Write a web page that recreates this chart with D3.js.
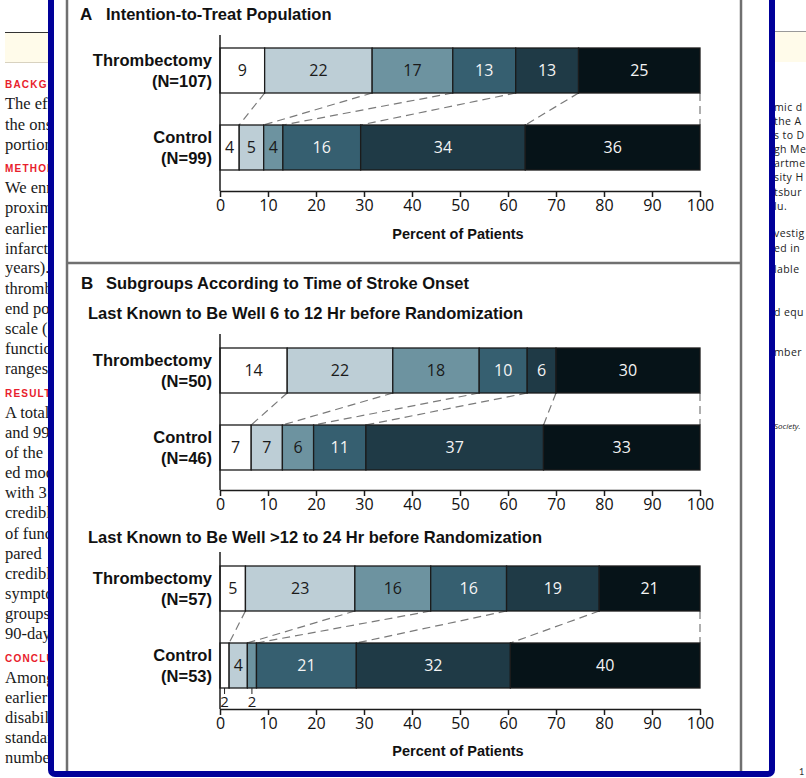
<!DOCTYPE html>
<html>
<head>
<meta charset="utf-8">
<script src="https://cdn.jsdelivr.net/npm/d3@7/dist/d3.min.js"></script>
<style>
html, body { margin: 0; padding: 0; background: #fff; }
svg { display: block; }
</style>
</head>
<body>
<svg id="chart" width="806" height="778"></svg>
<script>
// ---------------- DATA ----------------
const groupNames = ["Thrombectomy", "Control"];
const xTicks = [0, 10, 20, 30, 40, 50, 60, 70, 80, 90, 100];

// Panel A: intention-to-treat population (percent of patients per category)
const ittN = [107, 99];
const ittThrombectomy = [9.3, 22.4, 16.8, 13.1, 13.1, 25.3];
const ittControl = [4.0, 5.1, 4.0, 16.2, 34.3, 36.4];
const ittThrombectomyLabels = ["9", "22", "17", "13", "13", "25"];
const ittControlLabels = ["4", "5", "4", "16", "34", "36"];

// Panel B: last known well 6 to 12 hr
const earlyN = [50, 46];
const earlyThrombectomy = [14, 22, 18, 10, 6, 30];
const earlyControl = [6.5, 6.5, 6.5, 10.9, 37.0, 32.6];
const earlyThrombectomyLabels = ["14", "22", "18", "10", "6", "30"];
const earlyControlLabels = ["7", "7", "6", "11", "37", "33"];

// Panel B: last known well >12 to 24 hr
const lateN = [57, 53];
const lateThrombectomy = [5.3, 22.8, 15.8, 15.8, 19.3, 21.0];
const lateControl = [1.9, 3.8, 1.9, 20.8, 32.1, 39.5];
const lateThrombectomyLabels = ["5", "23", "16", "16", "19", "21"];
const lateControlLabels = ["2", "4", "2", "21", "32", "40"];

// Background article page fragments (visible at the sides of the figure)
const leftLines = [
  ["BACKGRO", 88, "h"], ["The eff", 108.5, "t"], ["the ons", 129.5, "t"], ["portion", 149.5, "t"],
  ["METHOD", 171.5, "h"], ["We enr", 192.5, "t"], ["proxima", 212.5, "t"], ["earlier", 233.5, "t"],
  ["infarct", 253.5, "t"], ["years).", 272.5, "t"], ["thromb", 293.5, "t"], ["end poi", 313.5, "t"],
  ["scale (", 333.5, "t"], ["function", 353.5, "t"], ["ranges", 373.5, "t"], ["RESULTS", 396.5, "h"],
  ["A total", 417.5, "t"], ["and 99", 437.5, "t"], ["of the", 457.5, "t"], ["ed mod", 477.5, "t"],
  ["with 3", 497.5, "t"], ["credible", 517.5, "t"], ["of func", 538.5, "t"], ["pared", 558.5, "t"],
  ["credible", 578.5, "t"], ["symptom", 598.5, "t"], ["groups", 618.5, "t"], ["90-day", 638.5, "t"],
  ["CONCLU", 661.5, "h"], ["Among", 682.5, "t"], ["earlier", 702.5, "t"], ["disabil", 722.5, "t"],
  ["standar", 742.5, "t"], ["number", 762.5, "t"]
];
const rightLines = [
  ["mic d", 110.5, "n"], ["the A", 124.5, "n"], ["s to D", 139, "n"], ["gh Me", 153, "n"],
  ["artme", 167, "n"], ["sity H", 181, "n"], ["tsbur", 195.5, "n"], ["lu.", 209.5, "n"],
  ["vestig", 237, "n"], ["ed in", 252, "n"], ["lable", 273, "n"], ["d equ", 315.5, "n"],
  ["mber", 355.5, "n"], ["Society.", 429, "i"]
];

// ---------------- DRAWING ----------------
const svg = d3.select("#chart");
const SANS = "'Liberation Sans', Arial, sans-serif";
const NUM = "'Open Sans', 'Liberation Sans', sans-serif";
const segColors = ["#ffffff", "#bdced6", "#6d93a0", "#365f70", "#1f3a46", "#061318"];
const segText = ["#1a1a1a", "#1a1a1a", "#1a1a1a", "#f4f4f4", "#f4f4f4", "#f4f4f4"];

// background page
const bg = svg.append("g");
bg.append("rect").attr("x", 5).attr("y", 32).attr("width", 43).attr("height", 31).attr("fill", "#fffbea");
bg.append("line").attr("x1", 5).attr("x2", 48).attr("y1", 32.5).attr("y2", 32.5).attr("stroke", "#333").attr("stroke-width", 1);
bg.append("line").attr("x1", 5).attr("x2", 48).attr("y1", 62.5).attr("y2", 62.5).attr("stroke", "#d8d2c0").attr("stroke-width", 1);
bg.append("rect").attr("x", 775).attr("y", 31).attr("width", 31).attr("height", 31).attr("fill", "#fffbea");
bg.append("line").attr("x1", 775).attr("x2", 806).attr("y1", 31.5).attr("y2", 31.5).attr("stroke", "#999").attr("stroke-width", 1);

const defs = svg.append("defs");
defs.append("clipPath").attr("id", "clipLeft").append("rect").attr("x", 0).attr("y", 0).attr("width", 48).attr("height", 778);
defs.append("clipPath").attr("id", "clipRight").append("rect").attr("x", 775).attr("y", 0).attr("width", 31).attr("height", 778);

const leftG = bg.append("g").attr("clip-path", "url(#clipLeft)");
leftG.selectAll("text").data(leftLines).join("text")
  .attr("x", 5).attr("y", d => d[1])
  .attr("font-family", d => d[2] === "h" ? SANS : "'Liberation Serif', 'Times New Roman', serif")
  .attr("font-weight", d => d[2] === "h" ? "bold" : "normal")
  .attr("font-size", d => d[2] === "h" ? 10 : 16.5)
  .attr("letter-spacing", d => d[2] === "h" ? 1.2 : 0)
  .attr("fill", d => d[2] === "h" ? "#e8202c" : "#1a1a1a")
  .text(d => d[0]);

const rightG = bg.append("g").attr("clip-path", "url(#clipRight)");
rightG.selectAll("text").data(rightLines).join("text")
  .attr("x", 774).attr("y", d => d[1])
  .attr("font-family", "'Open Sans', Lato, sans-serif")
  .attr("font-size", d => d[2] === "i" ? 8 : 10.5)
  .attr("letter-spacing", d => d[2] === "i" ? 0 : 0.4)
  .attr("font-style", d => d[2] === "i" ? "italic" : "normal")
  .attr("fill", "#222")
  .text(d => d[0]);
bg.append("text").attr("x", 799).attr("y", 775).attr("font-family", "Lato, sans-serif").attr("font-size", 9).attr("fill", "#333").text("1");

// figure panel
svg.append("rect").attr("x", 54).attr("y", 0).attr("width", 715).attr("height", 771).attr("fill", "#fff");
svg.append("line").attr("x1", 67).attr("x2", 67).attr("y1", 0).attr("y2", 771).attr("stroke", "#707070").attr("stroke-width", 2.5);
svg.append("line").attr("x1", 741).attr("x2", 741).attr("y1", 0).attr("y2", 771).attr("stroke", "#707070").attr("stroke-width", 2.5);
svg.append("line").attr("x1", 67).attr("x2", 741).attr("y1", 263).attr("y2", 263).attr("stroke", "#707070").attr("stroke-width", 2.5);
svg.append("rect").attr("x", 51).attr("y", -20).attr("width", 721).attr("height", 794).attr("rx", 4)
  .attr("fill", "none").attr("stroke", "#000099").attr("stroke-width", 6);

// titles
function boldText(x, y, t, size) {
  return svg.append("text").attr("x", x).attr("y", y).attr("font-family", SANS)
    .attr("font-weight", "bold").attr("font-size", size || 16.5).attr("fill", "#111").text(t);
}
boldText(80, 20, "A", 17);
boldText(106, 20, "Intention-to-Treat Population");
boldText(81, 289, "B", 17);
boldText(106, 289, "Subgroups According to Time of Stroke Onset");
boldText(88, 318.5, "Last Known to Be Well 6 to 12 Hr before Randomization");
boldText(88, 543, "Last Known to Be Well >12 to 24 Hr before Randomization");

const x = d3.scaleLinear().domain([0, 100]).range([220, 700]);
const barH = 45;

const panels = [
  { t: ittThrombectomy, c: ittControl, tl: ittThrombectomyLabels, cl: ittControlLabels, n: ittN,
    top: 35, ty: 48, cy: 125, axisY: 191, xlabel: 239 },
  { t: earlyThrombectomy, c: earlyControl, tl: earlyThrombectomyLabels, cl: earlyControlLabels, n: earlyN,
    top: 334, ty: 348, cy: 425, axisY: 490, xlabel: null },
  { t: lateThrombectomy, c: lateControl, tl: lateThrombectomyLabels, cl: lateControlLabels, n: lateN,
    top: 552, ty: 566, cy: 643, axisY: 709, xlabel: 756 }
];

panels.forEach(p => {
  const g = svg.append("g");
  const rows = [
    { vals: p.t, labels: p.tl, y: p.ty, name: groupNames[0], n: p.n[0] },
    { vals: p.c, labels: p.cl, y: p.cy, name: groupNames[1], n: p.n[1] }
  ];
  const cums = rows.map(r => [0, ...d3.cumsum(r.vals)]);

  // dashed connectors
  d3.range(1, 7).forEach(i => {
    g.append("line")
      .attr("x1", x(cums[0][i])).attr("y1", p.ty + barH)
      .attr("x2", x(cums[1][i])).attr("y2", p.cy)
      .attr("stroke", "#7a7a7a").attr("stroke-width", 1.2).attr("stroke-dasharray", "8,5");
  });

  rows.forEach((r, ri) => {
    const cum = cums[ri];
    const segs = r.vals.map((v, i) => ({ v, i, x0: cum[i], x1: cum[i + 1], label: r.labels[i] }));
    g.selectAll(null).data(segs).join("rect")
      .attr("x", d => x(d.x0)).attr("y", r.y)
      .attr("width", d => x(d.x1) - x(d.x0)).attr("height", barH)
      .attr("fill", d => segColors[d.i])
      .attr("stroke", "#1b1b1b").attr("stroke-width", 1.3);
    segs.forEach(d => {
      const cx = (x(d.x0) + x(d.x1)) / 2;
      const w = x(d.x1) - x(d.x0);
      if (w >= 12) {
        g.append("text").attr("x", cx).attr("y", r.y + barH / 2).attr("dy", "0.36em")
          .attr("text-anchor", "middle").attr("font-family", NUM).attr("font-size", 16)
          .attr("fill", segText[d.i]).text(d.label);
      } else {
        g.append("line").attr("x1", cx).attr("x2", cx).attr("y1", r.y + barH).attr("y2", r.y + barH + 6)
          .attr("stroke", "#222").attr("stroke-width", 1);
        g.append("text").attr("x", cx).attr("y", r.y + barH + 19)
          .attr("text-anchor", "middle").attr("font-family", NUM).attr("font-size", 15)
          .attr("fill", "#1a1a1a").text(d.label);
      }
    });
    const mid = r.y + barH / 2;
    g.append("text").attr("x", 212).attr("y", mid - 4.5).attr("text-anchor", "end")
      .attr("font-family", SANS).attr("font-weight", "bold").attr("font-size", 16.5).attr("fill", "#111")
      .text(r.name);
    g.append("text").attr("x", 212).attr("y", mid + 16).attr("text-anchor", "end")
      .attr("font-family", SANS).attr("font-weight", "bold").attr("font-size", 16.5).attr("fill", "#111")
      .text("(N=" + r.n + ")");
  });

  // vertical axis line
  g.append("line").attr("x1", x(0)).attr("x2", x(0)).attr("y1", p.top).attr("y2", p.axisY)
    .attr("stroke", "#1b1b1b").attr("stroke-width", 1.5);

  // x axis
  const ax = g.append("g").attr("transform", `translate(0,${p.axisY})`)
    .call(d3.axisBottom(x).tickValues(xTicks).tickSize(6).tickSizeOuter(0).tickPadding(3));
  ax.select(".domain").attr("stroke", "#1b1b1b").attr("stroke-width", 1.5);
  ax.selectAll(".tick line").attr("stroke", "#1b1b1b").attr("stroke-width", 1.5);
  ax.selectAll(".tick text").attr("font-family", NUM).attr("font-size", 16).attr("fill", "#111");

  if (p.xlabel) {
    g.append("text").attr("x", 458).attr("y", p.xlabel).attr("text-anchor", "middle")
      .attr("font-family", SANS).attr("font-weight", "bold").attr("font-size", 14.5).attr("fill", "#111")
      .text("Percent of Patients");
  }
});
</script>
</body>
</html>
